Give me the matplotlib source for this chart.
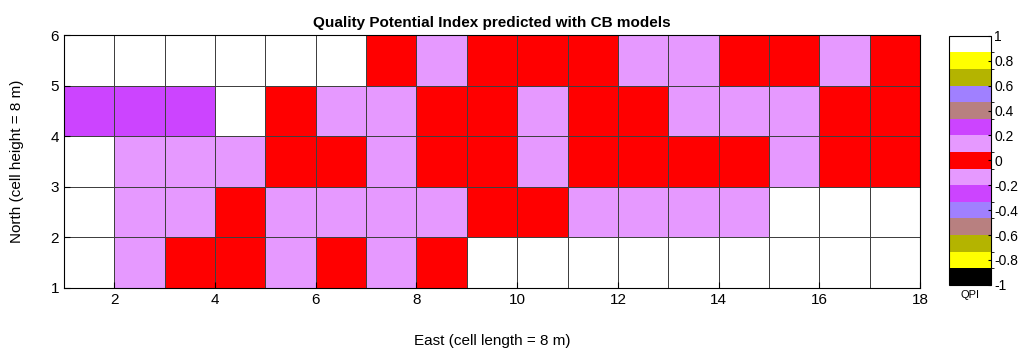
import numpy as np
import matplotlib
matplotlib.use('Agg')
import matplotlib.pyplot as plt
from matplotlib.colors import ListedColormap, BoundaryNorm

plt.rcParams['font.family'] = ['Liberation Sans', 'DejaVu Sans']

# QPI values per cell, rows from north=1 (bottom) to north=5 (top), columns east=1..17
W, R, P, U = 1.0, 0.0, 0.13, 0.27   # white, red, pink, purple
qpi = np.array([
    [W, P, R, R, P, R, P, R, W, W, W, W, W, W, W, W, W],
    [W, P, P, R, P, P, P, P, R, R, P, P, P, P, W, W, W],
    [W, P, P, P, R, R, P, R, R, P, R, R, R, R, P, R, R],
    [U, U, U, W, R, P, P, R, R, P, R, R, P, P, P, R, R],
    [W, W, W, W, W, W, R, P, R, R, R, P, P, R, R, P, R],
])
east_edges = np.arange(1, 19)
north_edges = np.arange(1, 7)

# 15 colour levels from -1 (bottom) to 1 (top)
level_colors = ['#000000', '#FFFF00', '#B4B400', '#B88080', '#A080FF', '#CC44FF', '#E699FF',
                '#FF0000',
                '#E699FF', '#CC44FF', '#B88080', '#A080FF', '#B4B400', '#FFFF00', '#FFFFFF']
cmap = ListedColormap(level_colors)
norm = BoundaryNorm(np.linspace(-1, 1, 16), cmap.N)

fig = plt.figure(figsize=(10.24, 3.62), dpi=100)
ax = fig.add_axes([0.0625, 0.205, 0.836, 0.698])
cax = fig.add_axes([0.927, 0.213, 0.041, 0.688])

mesh = ax.pcolormesh(east_edges, north_edges, qpi, cmap=cmap, norm=norm,
                     edgecolor='#404040', linewidth=0.6)
ax.set_xlim(1, 18)
ax.set_ylim(1, 6)
ax.set_xticks(range(2, 19, 2))
ax.set_yticks(range(1, 7))
ax.tick_params(direction='in', labelsize=11, length=4)
ax.set_title('Quality Potential Index predicted with CB models', fontsize=11, fontweight='bold', pad=6)
ax.set_xlabel('East (cell length = 8 m)', fontsize=11, labelpad=20)
ax.set_ylabel('North (cell height = 8 m)', fontsize=11, labelpad=19)

cb = fig.colorbar(mesh, cax=cax, ticks=np.round(np.arange(-1, 1.01, 0.2), 1))
cb.ax.set_yticklabels(['-1', '-0.8', '-0.6', '-0.4', '-0.2', '0', '0.2', '0.4', '0.6', '0.8', '1'])
cb.ax.tick_params(labelsize=10, direction='in', length=2, pad=2)
cb.outline.set_linewidth(0.8)
cax.set_xlabel('QPI', fontsize=8, labelpad=4)

fig.savefig('out.png', dpi=100)
